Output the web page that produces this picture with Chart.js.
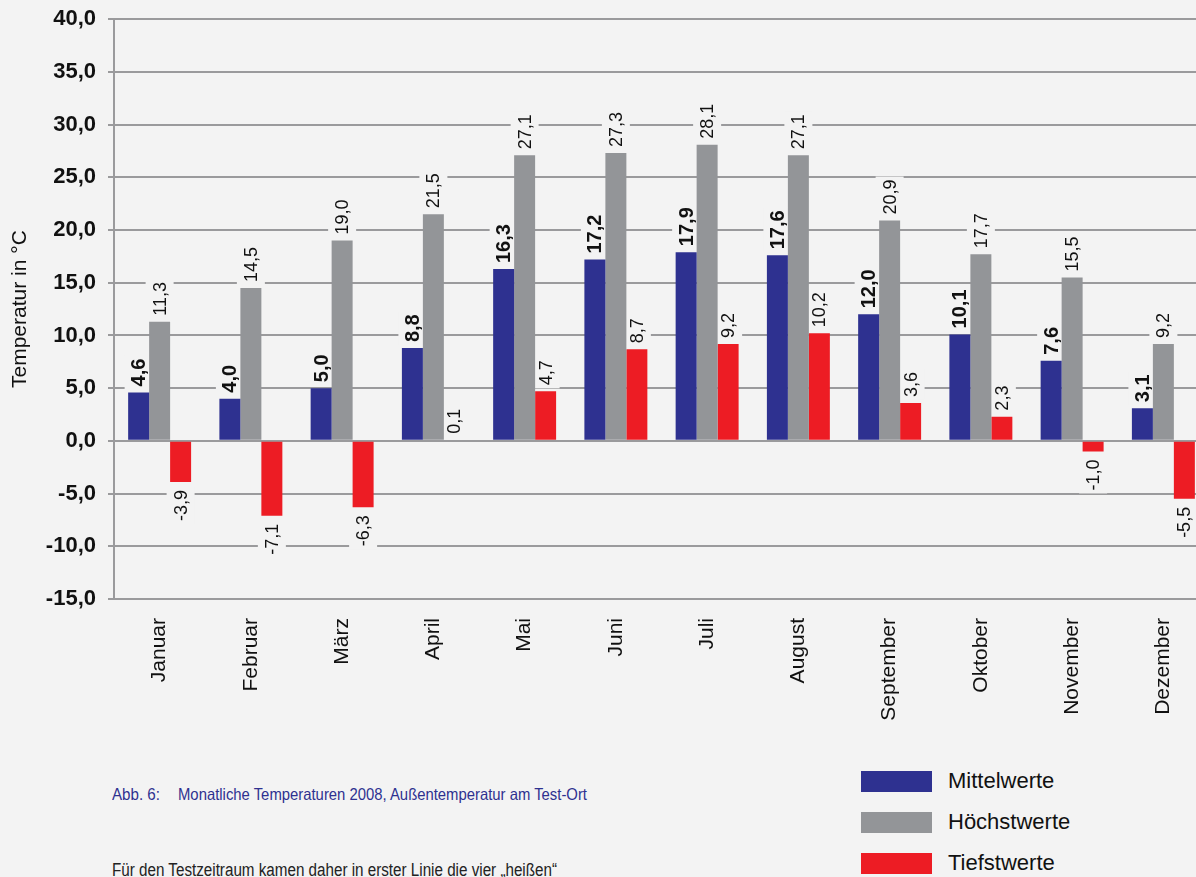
<!DOCTYPE html>
<html>
<head>
<meta charset="utf-8">
<script src="https://cdn.jsdelivr.net/npm/chart.js@4.4.1/dist/chart.umd.min.js"></script>
<style>
  html, body { margin:0; padding:0; width:1196px; height:877px; overflow:hidden; background:#f3f3f3; }
  #wrap { position:absolute; left:0; top:-6px; width:1209px; height:740px; }
  .fit { position:absolute; white-space:nowrap; transform-origin:0 0; font-family:'Liberation Sans',Arial,sans-serif; }
  .cap { color:#2e3190; font-size:16.5px; }
  .body { color:#222; font-size:18px; }
  .leg { position:absolute; left:861px; font-family:'Liberation Sans',Arial,sans-serif; font-size:22px; color:#111; white-space:nowrap; }
  .leg i { position:absolute; left:0; top:0; width:71px; height:21px; }
  .leg b { position:absolute; left:87px; top:-3px; font-weight:normal; }
</style>
</head>
<body>
<div id="wrap"><canvas id="c" width="1209" height="740"></canvas></div>
<div class="fit cap" data-w="48" style="left:112px;top:785px">Abb. 6:</div>
<div class="fit cap" data-w="409" style="left:178px;top:785px">Monatliche Temperaturen 2008, Außentemperatur am Test-Ort</div>
<div class="fit body" data-w="445" style="left:112px;top:860px">Für den Testzeitraum kamen daher in erster Linie die vier „heißen“</div>
<div class="leg" style="top:771px"><i style="background:#2e3190"></i><b>Mittelwerte</b></div>
<div class="leg" style="top:812px"><i style="background:#939598"></i><b>Höchstwerte</b></div>
<div class="leg" style="top:853px"><i style="background:#ed1c24"></i><b>Tiefstwerte</b></div>
<script>
document.querySelectorAll('.fit').forEach(el => {
  const w = el.getBoundingClientRect().width;
  el.style.transform = 'scaleX(' + (parseFloat(el.dataset.w) / w) + ')';
});

const months = ['Januar','Februar','März','April','Mai','Juni','Juli','August','September','Oktober','November','Dezember'];
const mittelwerte = [4.6, 4.0, 5.0, 8.8, 16.3, 17.2, 17.9, 17.6, 12.0, 10.1, 7.6, 3.1];
const hoechstwerte = [11.3, 14.5, 19.0, 21.5, 27.1, 27.3, 28.1, 27.1, 20.9, 17.7, 15.5, 9.2];
const tiefstwerte = [-3.9, -7.1, -6.3, 0.1, 4.7, 8.7, 9.2, 10.2, 3.6, 2.3, -1.0, -5.5];
const yMin = -15, yMax = 40, yStep = 5;

const BG = '#f3f3f3';
const fmt = v => v.toFixed(1).replace('.', ',');

const labelPlugin = {
  id: 'valLabels',
  _items(chart) {
    const items = [];
    chart.data.datasets.forEach((ds, di) => {
      const meta = chart.getDatasetMeta(di);
      const font = di === 0 ? 'bold 20px "Liberation Sans", Arial, sans-serif' : '18px "Liberation Sans", Arial, sans-serif';
      meta.data.forEach((el, i) => {
        const v = ds.data[i];
        items.push({ x: el.x, y: el.y, v, font, text: fmt(v) });
      });
    });
    return items;
  },
  beforeDatasetsDraw(chart) {
    const ctx = chart.ctx;
    ctx.save();
    this._items(chart).forEach(it => {
      ctx.font = it.font;
      const w = ctx.measureText(it.text).width;
      ctx.fillStyle = BG;
      if (it.v >= 0) ctx.fillRect(it.x - 14, it.y - 6 - w - 3, 28, w + 6);
      else ctx.fillRect(it.x - 14, it.y + 8 - 3, 28, w + 6);
    });
    ctx.restore();
  },
  afterDatasetsDraw(chart) {
    const ctx = chart.ctx;
    ctx.save();
    ctx.fillStyle = '#111';
    this._items(chart).forEach(it => {
      ctx.font = it.font;
      ctx.save();
      if (it.v >= 0) {
        ctx.translate(it.x + 1, it.y - 6);
        ctx.rotate(-Math.PI / 2);
        ctx.textAlign = 'left';
      } else {
        ctx.translate(it.x + 1, it.y + 8);
        ctx.rotate(-Math.PI / 2);
        ctx.textAlign = 'right';
      }
      ctx.textBaseline = 'middle';
      ctx.fillText(it.text, 0, 0);
      ctx.restore();
    });
    ctx.restore();
  }
};

new Chart(document.getElementById('c'), {
  type: 'bar',
  data: {
    labels: months,
    datasets: [
      { label: 'Mittelwerte', data: mittelwerte, backgroundColor: '#2e3190' },
      { label: 'Höchstwerte', data: hoechstwerte, backgroundColor: '#939598' },
      { label: 'Tiefstwerte', data: tiefstwerte, backgroundColor: '#ed1c24' }
    ]
  },
  options: {
    responsive: false,
    devicePixelRatio: 1,
    animation: false,
    events: [],
    layout: { padding: { top: 12, right: 0, bottom: 0, left: 0 } },
    datasets: { bar: { categoryPercentage: 0.69, barPercentage: 1.0 } },
    plugins: { legend: { display: false }, tooltip: { enabled: false } },
    scales: {
      x: {
        grid: { display: false, drawTicks: false },
        border: { display: false },
        ticks: {
          minRotation: 90, maxRotation: 90, padding: 19, autoSkip: false,
          color: '#111', font: { family: '"Liberation Sans", Arial, sans-serif', size: 21 }
        },
        afterFit(s) { s.height = 740 - 605; }
      },
      y: {
        min: yMin, max: yMax,
        grid: { color: '#9a9a9c', lineWidth: 2, tickLength: 6, drawTicks: true },
        border: { display: true, color: '#9a9a9c', width: 2 },
        ticks: {
          stepSize: yStep, padding: 12, color: '#111',
          font: { family: '"Liberation Sans", Arial, sans-serif', size: 22, weight: 'bold' },
          callback: v => fmt(v)
        },
        title: {
          display: true, text: 'Temperatur in °C', color: '#111',
          font: { family: '"Liberation Sans", Arial, sans-serif', size: 21 },
          padding: { top: 8, bottom: 0 }
        },
        afterFit(s) { s.width = 114; }
      }
    }
  },
  plugins: [labelPlugin]
});
</script>
</body>
</html>
